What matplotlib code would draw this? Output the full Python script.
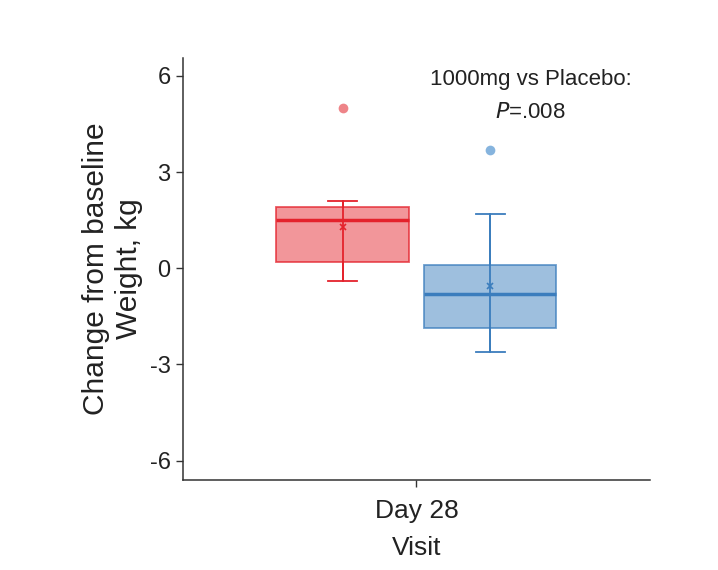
import matplotlib
matplotlib.use("Agg")
import matplotlib.pyplot as plt

plt.rcParams['font.family'] = ['Liberation Sans', 'DejaVu Sans']

visit = ["Day 28"]
groups = ["1000mg", "Placebo"]
q1 = [0.19, -1.87]
med = [1.5, -0.8]
q3 = [1.9, 0.1]
whislo = [-0.4, -2.6]
whishi = [2.1, 1.68]
means = [1.3, -0.55]
outliers = [[5.0], [3.7]]
edge_colors = ["#E4222C", "#3B7DBD"]
fill_colors = ["#EE7378", "#7EAAD4"]
flier_colors = ["#EE8488", "#86B4DE"]
yticks = [-6, -3, 0, 3, 6]

fig = plt.figure(figsize=(7.18, 5.70), dpi=100)
ax = fig.add_axes([0.255, 0.158, 0.65, 0.74])

offsets = [-0.19, 0.19]
for i in range(2):
    pos = 1 + offsets[i]
    stats = [dict(med=med[i], q1=q1[i], q3=q3[i], whislo=whislo[i],
                  whishi=whishi[i], mean=means[i], fliers=outliers[i])]
    ax.vlines(pos, whislo[i], whishi[i], color=edge_colors[i], linewidth=1.3,
              zorder=3)
    ax.bxp(stats, positions=[pos], widths=0.34, showmeans=True,
           patch_artist=True, capwidths=0.075,
           boxprops=dict(facecolor=fill_colors[i], edgecolor=edge_colors[i],
                         linewidth=1.3, alpha=0.75),
           medianprops=dict(color=edge_colors[i], linewidth=2.5),
           whiskerprops=dict(color=edge_colors[i], linewidth=1.3),
           capprops=dict(color=edge_colors[i], linewidth=1.3),
           meanprops=dict(marker='x', markeredgecolor=edge_colors[i],
                          markersize=5, markeredgewidth=1.2),
           flierprops=dict(marker='o', markerfacecolor=flier_colors[i],
                           markeredgecolor='none', markersize=7))

ax.set_xlim(0.4, 1.6)
ax.set_ylim(-6.6, 6.55)
ax.set_xticks([1])
ax.set_xticklabels(visit)
ax.set_yticks(yticks)
ax.set_yticklabels([str(t) for t in yticks])
ax.tick_params(axis='both', length=5, width=1, color='#333333',
               labelcolor='#222222', pad=4)
ax.tick_params(axis='y', labelsize=17)
ax.tick_params(axis='x', labelsize=19, pad=9)
for s in ['top', 'right']:
    ax.spines[s].set_visible(False)
for s in ['left', 'bottom']:
    ax.spines[s].set_color('#333333')
    ax.spines[s].set_linewidth(1.1)

ax.set_xlabel("Visit", fontsize=19, color='#222222', labelpad=9)
ax.set_ylabel("Change from baseline\nWeight, kg", fontsize=21.5, color='#222222',
              labelpad=5, linespacing=1.2)

ax.text(0.745, 0.95, "1000mg vs Placebo:", transform=ax.transAxes,
        ha='center', va='center', fontsize=16, color='#222222')
ax.text(0.745, 0.872, r"$\it{P}$=.008", transform=ax.transAxes,
        ha='center', va='center', fontsize=16, color='#222222')

fig.savefig("out.png", dpi=100)
